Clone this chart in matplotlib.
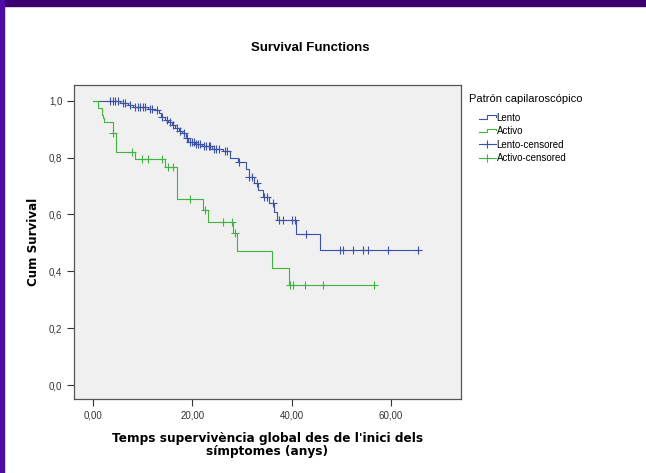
import numpy as np
import matplotlib.pyplot as plt
from matplotlib.lines import Line2D
from matplotlib.patches import Rectangle
from matplotlib.legend_handler import HandlerBase
from matplotlib.ticker import FuncFormatter

# Kaplan-Meier steps: (time of event, survival after it)
lento_t = [0, 5.5, 7.0, 8.0, 11.0, 12.5, 13.3, 13.8, 14.5, 15.2, 16.0, 16.5, 17.3, 18.0,
           18.7, 19.2, 20.5, 22.0, 24.0, 26.2, 27.6, 29.2, 30.8, 31.4, 32.5, 33.3, 34.2,
           35.4, 36.4, 37.0, 40.8, 45.7]
lento_s = [1.0, 0.99, 0.985, 0.977, 0.972, 0.967, 0.955, 0.942, 0.933, 0.924, 0.915, 0.905,
           0.895, 0.885, 0.87, 0.855, 0.848, 0.84, 0.83, 0.822, 0.80, 0.785, 0.758, 0.73,
           0.71, 0.685, 0.662, 0.64, 0.61, 0.58, 0.531, 0.475]
lento_cens = [3.5, 4.0, 4.5, 5.0, 6.0, 6.5, 7.5, 8.5, 9.0, 9.5, 10.0, 10.5, 11.5, 12.0, 13.0,
              14.0, 15.0, 15.6, 16.2, 17.0, 17.6, 18.3, 19.0, 19.6, 20.0, 20.3, 20.8, 21.2,
              21.6, 22.3, 22.8, 23.3, 23.6, 24.3, 24.8, 25.3, 26.5, 27.0, 29.5, 31.5, 32.0,
              33.0, 34.5, 35.0, 36.2, 37.4, 38.2, 40.1, 40.6, 42.9, 49.7, 50.3, 52.3, 54.4,
              55.4, 59.4, 65.4]

activo_t = [0, 1.0, 1.8, 2.1, 2.3, 4.0, 4.6, 8.4, 14.6, 17.0, 22.1, 23.2, 28.2, 29.0, 36.0, 39.5]
activo_s = [1.0, 0.975, 0.95, 0.94, 0.924, 0.886, 0.82, 0.796, 0.765, 0.654, 0.615, 0.573,
            0.534, 0.471, 0.411, 0.351]
activo_cens = [4.1, 7.9, 9.9, 11.1, 13.9, 15.1, 16.1, 19.5, 22.6, 26.2, 28.0, 28.6,
               39.7, 40.3, 42.7, 46.3, 56.6]

BLUE = '#3c52a6'
GREEN = '#3fb23f'


def surv_at(times, surv, t):
    idx = np.searchsorted(times, t, side='right') - 1
    return np.array(surv)[idx]


class StepHandler(HandlerBase):
    def create_artists(self, legend, orig_handle, xdescent, ydescent, width, height, fontsize, trans):
        x0 = -xdescent
        x1 = x0 + width
        xm = x0 + width * 0.5
        y0 = -ydescent + height * 0.3
        y1 = -ydescent + height * 0.85
        ln = Line2D([x0, xm, xm, x1, x1], [y0, y0, y1, y1, y1 - height * 0.25],
                    color=orig_handle.get_color(), lw=0.8)
        ln.set_transform(trans)
        return [ln]


plt.rcParams['font.family'] = ['Liberation Sans', 'DejaVu Sans']

fig = plt.figure(figsize=(6.46, 4.73), dpi=100)
fig.patches.append(Rectangle((0, 1 - 6 / 473), 1, 6 / 473, transform=fig.transFigure,
                             color='#3a0070', zorder=10))
fig.patches.append(Rectangle((0, 0), 3.5 / 646, 1, transform=fig.transFigure,
                             color='#4e0ca6', zorder=10))

ax = fig.add_axes([74 / 646, 1 - 399 / 473, 387 / 646, 314 / 473])
ax.set_facecolor('#f0f0f0')

for t, s, cens, col in [(lento_t, lento_s, lento_cens, BLUE),
                        (activo_t, activo_s, activo_cens, GREEN)]:
    tt = list(t) + [max(cens)]
    ss = list(s) + [s[-1]]
    ax.step(tt, ss, where='post', color=col, lw=0.8)
    ax.plot(cens, surv_at(t, s, cens), linestyle='none', marker='+', ms=6,
            mew=0.8, color=col)

ax.set_xlim(-3.8, 74.1)
ax.set_ylim(-0.049, 1.055)
ax.set_xticks([0, 20, 40, 60])
ax.set_yticks([0, 0.2, 0.4, 0.6, 0.8, 1.0])
ax.xaxis.set_major_formatter(FuncFormatter(lambda v, p: f'{v:.2f}'.replace('.', ',')))
ax.yaxis.set_major_formatter(FuncFormatter(lambda v, p: f'{v:.1f}'.replace('.', ',')))
ax.tick_params(direction='out', length=5, width=0.8, color='#333333',
               labelsize=7, labelcolor='#333333')
for sp in ax.spines.values():
    sp.set_color('#555555')
    sp.set_linewidth(0.9)

ax.set_xlabel("Temps supervivència global des de l'inici dels\nsímptomes (anys)",
              family='DejaVu Sans', fontweight='bold', fontsize=8.7, labelpad=8,
              linespacing=1.0)
ax.set_ylabel('Cum Survival', family='DejaVu Sans', fontweight='bold', fontsize=8.6,
              labelpad=6)
fig.text(310 / 646, 1 - 48 / 473, 'Survival Functions', ha='center', va='center',
         fontsize=9.5, fontweight='bold')

fig.text(469 / 646, 1 - 99 / 473, 'Patrón capilaroscópico', ha='left', va='center',
         fontsize=8)
h_lento = Line2D([], [], color=BLUE)
h_activo = Line2D([], [], color=GREEN)
h_lc = Line2D([], [], color=BLUE, marker='+', ms=6, mew=0.8, lw=0.8)
h_ac = Line2D([], [], color=GREEN, marker='+', ms=6, mew=0.8, lw=0.8)
fig.legend([h_lento, h_activo, h_lc, h_ac],
           ['Lento', 'Activo', 'Lento-censored', 'Activo-censored'],
           handler_map={h_lento: StepHandler(), h_activo: StepHandler()},
           loc='upper left', bbox_to_anchor=(479 / 646, 1 - 113 / 473),
           frameon=False, fontsize=7, handlelength=1.7, handletextpad=0.1,
           labelspacing=0.35, borderpad=0, borderaxespad=0, numpoints=1)

fig.savefig('out.png', dpi=100)
